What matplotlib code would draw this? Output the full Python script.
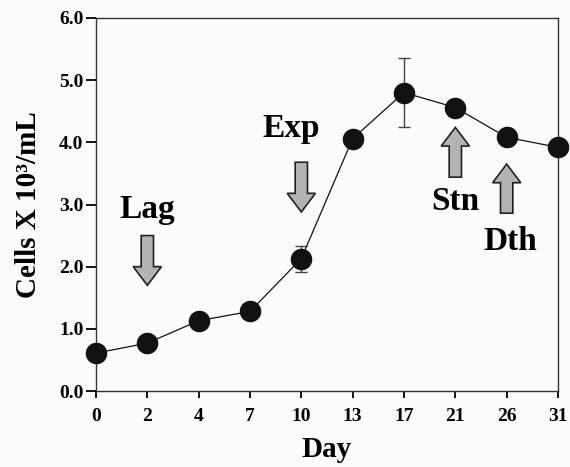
import matplotlib
matplotlib.use("Agg")
import matplotlib.pyplot as plt
from matplotlib.patches import FancyArrow

days = ["0", "2", "4", "7", "10", "13", "17", "21", "26", "31"]
cells = [0.61, 0.77, 1.13, 1.28, 2.13, 4.06, 4.80, 4.56, 4.08, 3.92]
errs = [0, 0, 0, 0, 0.21, 0, 0.55, 0, 0, 0]
y_ticks = [0.0, 1.0, 2.0, 3.0, 4.0, 5.0, 6.0]

# phase labels: (text, x index, text y, arrow base y, arrow tip y)
phases = [
    ("Lag", 1, 2.92, 2.50, 1.70),
    ("Exp", 3.8, 4.23, 3.68, 2.88),
    ("Stn", 7, 3.05, 3.44, 4.24),
    ("Dth", 8.08, 2.40, 2.86, 3.65),
]
arrow_x = [1, 4, 7, 8]

plt.rcParams['font.family'] = ['Liberation Serif', 'DejaVu Serif']
plt.rcParams['font.weight'] = 'bold'

fig = plt.figure(figsize=(5.7, 4.67), dpi=100, facecolor="#fdfcfa")
ax = fig.add_axes([96 / 570, 76 / 467, 462 / 570, 373 / 467])
ax.set_facecolor("#fdfcfa")

x = list(range(len(days)))
ax.errorbar(x, cells, yerr=errs, fmt='o-', color='#111111', lw=0.9,
            markersize=14.5, ecolor='#444444', elinewidth=1.0, capsize=4,
            capthick=1.0, zorder=3, clip_on=False)

for (txt, tx, ty, y0, y1), ax_x in zip(phases, arrow_x):
    ax.text(tx, ty, txt, ha='center', va='center', fontsize=24, fontweight='bold')
    ax.add_patch(FancyArrow(ax_x, y0, 0, y1 - y0, width=0.24, head_width=0.55,
                            head_length=0.30, length_includes_head=True,
                            facecolor='#b3b3b3', edgecolor='#222222', lw=1.2,
                            zorder=2))

ax.set_xlim(0, len(days) - 1)
ax.set_ylim(0, 6)
ax.set_xticks(x)
ax.set_xticklabels(days)
ax.set_yticks(y_ticks)
ax.set_yticklabels(["%.1f" % v for v in y_ticks])
ax.tick_params(axis='y', direction='out', length=7, width=1.3, labelsize=14, pad=2)
ax.tick_params(axis='x', direction='out', length=5, width=1.3, labelsize=14, pad=7)
for lab in ax.get_xticklabels() + ax.get_yticklabels():
    lab.set_fontweight('bold')
for s in ax.spines.values():
    s.set_linewidth(1.0)
    s.set_color('#333333')

ax.set_xlabel("Day", fontsize=21, fontweight='bold', labelpad=8)
ax.set_ylabel("Cells X 10³/mL", fontsize=21, fontweight='bold', labelpad=12)

fig.savefig("out.png", dpi=100, facecolor=fig.get_facecolor())
